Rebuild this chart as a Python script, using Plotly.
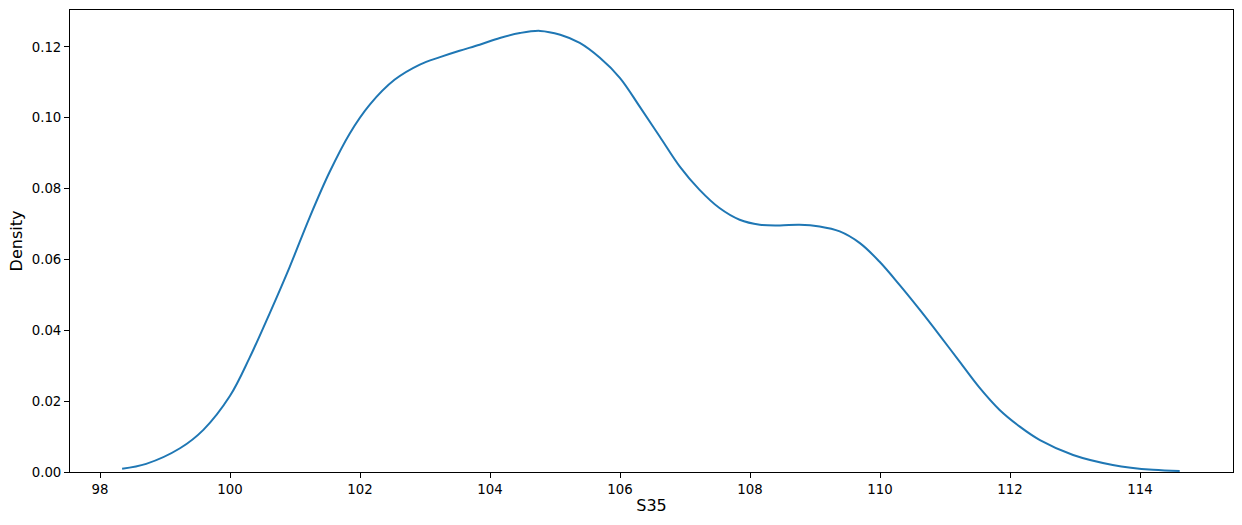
import plotly.graph_objects as go

# KDE curve of S35
s35 = [98.34, 98.71, 99.23, 99.59, 100.0, 100.30, 100.61, 100.92, 101.23, 101.53,
       101.84, 102.15, 102.53, 102.92, 103.23, 103.53, 103.84, 104.15, 104.46, 104.77,
       105.08, 105.38, 105.69, 106.0, 106.30, 106.61, 106.92, 107.22, 107.53, 107.84,
       108.15, 108.46, 108.76, 109.07, 109.38, 109.69, 109.99, 110.30, 110.61, 110.92,
       111.23, 111.53, 111.84, 112.15, 112.46, 112.97, 113.58, 114.2, 114.61]
density = [0.0009, 0.0023, 0.0067, 0.0119, 0.0215, 0.0322, 0.0448, 0.0580, 0.0721, 0.0846,
           0.0955, 0.1037, 0.1107, 0.1150, 0.1171, 0.1189, 0.1206, 0.1225, 0.1239, 0.1245,
           0.1234, 0.1211, 0.1169, 0.1112, 0.1032, 0.0947, 0.0862, 0.0797, 0.0745, 0.0712,
           0.0698, 0.0696, 0.0698, 0.0693, 0.0679, 0.0646, 0.0594, 0.0528, 0.0458, 0.0385,
           0.0310, 0.0238, 0.0175, 0.0128, 0.0090, 0.0048, 0.0020, 0.0006, 0.0003]

fig = go.Figure(
    go.Scatter(
        x=s35,
        y=density,
        mode="lines",
        line=dict(color="#1f77b4", width=2, shape="spline", smoothing=1),
        showlegend=False,
    )
)

axis_style = dict(
    showline=True,
    linecolor="black",
    linewidth=1,
    mirror=True,
    ticks="outside",
    ticklen=5,
    tickwidth=1,
    tickcolor="black",
    showgrid=False,
    zeroline=False,
    automargin=False,
)

fig.update_layout(
    width=1242,
    height=525,
    margin=dict(l=70, r=9, t=10, b=53),
    paper_bgcolor="white",
    plot_bgcolor="white",
    font=dict(family="DejaVu Sans", size=13.3, color="black"),
    xaxis=dict(axis_style, range=[97.538, 115.43], dtick=2, tick0=98,
               title=dict(text="S35", standoff=3)),
    yaxis=dict(axis_style, range=[0, 0.1304], dtick=0.02, tickformat=".2f",
               title=dict(text="Density", standoff=5)),
)

# drop the default page margin so the figure sits at the window origin
fig.write_html(
    "out.html",
    config={"displayModeBar": False},
    post_script="document.body.style.margin='0';document.body.style.overflow='hidden';",
)
